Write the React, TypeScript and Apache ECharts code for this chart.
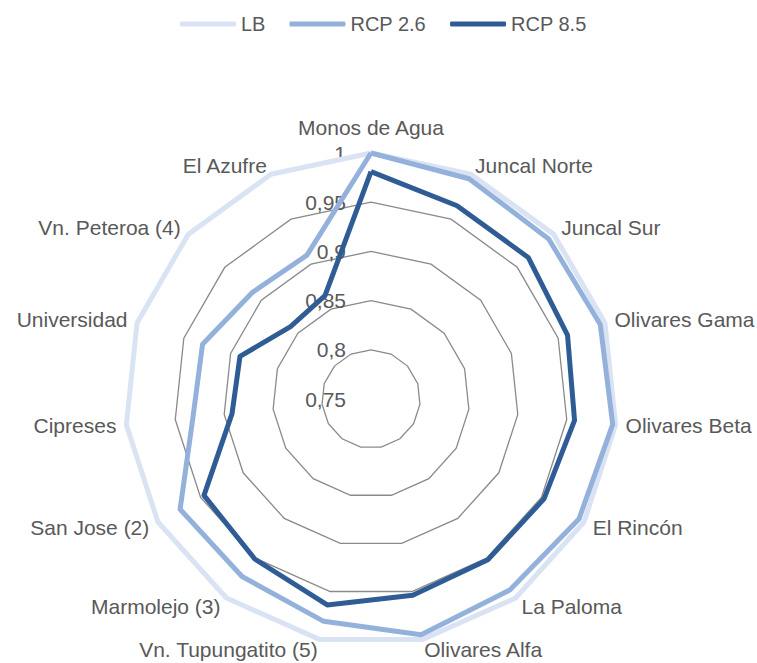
import React, { useEffect, useRef } from "react";
import * as echarts from "echarts";

const indicatorNames = [
  "Monos de Agua",
  "Juncal Norte",
  "Juncal Sur",
  "Olivares Gama",
  "Olivares Beta",
  "El Rincón",
  "La Paloma",
  "Olivares Alfa",
  "Vn. Tupungatito (5)",
  "Marmolejo (3)",
  "San Jose (2)",
  "Cipreses",
  "Universidad",
  "Vn. Peteroa (4)",
  "El Azufre",
];

const seriesNames = ["LB", "RCP 2.6", "RCP 8.5"];

const lbValues = [1, 1, 1, 1, 1, 1, 1, 1, 1, 1, 1, 1, 1, 1, 1];
const rcp26Values = [1.0, 0.995, 0.993, 0.995, 0.997, 0.994, 0.99, 0.995, 0.981, 0.973, 0.974, 0.932, 0.93, 0.912, 0.91];
const rcp85Values = [0.981, 0.965, 0.965, 0.96, 0.958, 0.953, 0.952, 0.954, 0.964, 0.951, 0.946, 0.892, 0.89, 0.86, 0.865];

const axisMin = 0.75;
const axisMax = 1;
const axisStep = 0.05;

const colors = ["#dae3f3", "#93b1da", "#305c96"];

// ECharts places radar indicators counter-clockwise; reorder so they run clockwise
const order = [0, ...indicatorNames.slice(1).map((_, i) => indicatorNames.length - 1 - i)];
const reorder = (arr: any[]) => order.map((i) => arr[i]);

const FONT = "'Liberation Sans', Arial, sans-serif";

export default function App() {
  const ref = useRef<HTMLDivElement>(null);
  useEffect(() => {
    if (!ref.current) return;
    const chart = echarts.init(ref.current, null, { renderer: "svg" });
    const indicators = reorder(indicatorNames).map((name, k) => {
      const ind: any = { name, min: axisMin, max: axisMax };
      if (k === 0) {
        ind.axisLabel = {
          show: true,
          formatter: (v: number) => String(Number(v.toFixed(2))).replace(".", ","),
          color: "#595959",
          fontSize: 21,
          fontFamily: FONT,
          margin: 25,
        };
      }
      return ind;
    });
    const allValues = [lbValues, rcp26Values, rcp85Values];
    chart.setOption({
      animation: false,
      backgroundColor: "#ffffff",
      legend: {
        data: seriesNames,
        top: 9,
        left: 175,
        icon: "roundRect",
        itemWidth: 56,
        itemHeight: 5,
        itemGap: 24,
        textStyle: { color: "#595959", fontSize: 20, fontFamily: FONT },
      },
      radar: {
        center: [371, 399],
        radius: 246,
        startAngle: 90,
        shape: "polygon",
        splitNumber: Math.round((axisMax - axisMin) / axisStep),
        indicator: indicators,
        nameGap: 10,
        axisName: {
          color: "#595959",
          fontSize: 21,
          fontFamily: FONT,
          formatter: (name: string) =>
            name === indicatorNames[0] ? `{top|${name}}` : name,
          rich: {
            top: { color: "#595959", fontSize: 21, fontFamily: FONT, padding: [0, 0, 5, 0] },
          },
        },
        axisLine: { show: false },
        axisTick: { show: false },
        axisLabel: { show: false },
        splitArea: { show: false },
        splitLine: { lineStyle: { color: "#8a8a8a", width: 1.3 } },
      },
      series: [
        {
          type: "radar",
          symbol: "none",
          data: seriesNames.map((name, i) => ({
            name,
            value: reorder(allValues[i]),
            itemStyle: { color: colors[i] },
            lineStyle: { color: colors[i], width: 5, join: "round" },
          })),
        },
      ],
    });
    return () => chart.dispose();
  }, []);
  return (
    <div
      ref={ref}
      style={{ position: "fixed", left: 0, top: 0, width: 757, height: 663 }}
    />
  );
}
